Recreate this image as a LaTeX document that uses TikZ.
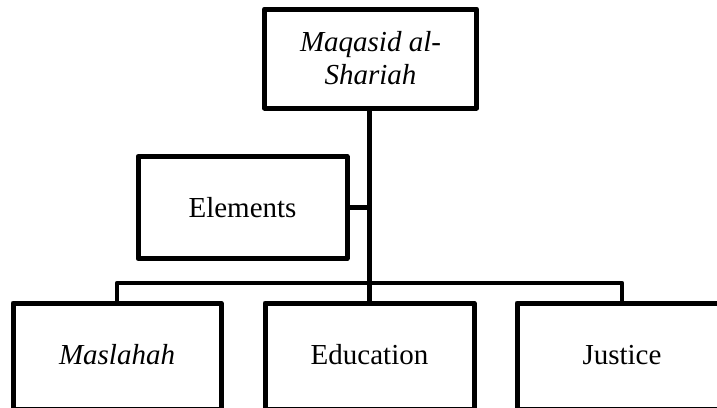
\documentclass[tikz,border=0pt]{standalone}
\usepackage{fontspec}
\setmainfont{Liberation Serif}
\begin{document}
\begin{tikzpicture}[x=1pt,y=-1pt,
  box/.style={draw=black,line width=5pt,line join=round,fill=white,inner sep=0pt,
    font=\fontsize{29}{33}\selectfont,align=center},
  lbl/.style={font=\fontsize{29}{33}\selectfont,anchor=base,inner sep=0pt},
  conn/.style={draw=black,line width=4.7pt,line join=round}]
\useasboundingbox (0,0) rectangle (717,407);
\clip (0,0) rectangle (717,407);
\fill[white] (0,0) rectangle (717,407);
\coordinate (bus) at (369.5,283);
\node[box,minimum width=212pt,minimum height=99pt] (top) at (370.5,58.5) {\itshape Maqasid al-\\\itshape Shariah};
\node[box,minimum width=209pt,minimum height=102pt] (elem) at (242.5,207.5) {Elements};
\node[box,minimum width=208pt,minimum height=106pt] (mas) at (117,356) {};
\node[box,minimum width=209pt,minimum height=106pt] (edu) at (369.5,356) {};
\node[box,minimum width=210pt,minimum height=106pt] (jus) at (622,356) {};
\node[lbl,font=\fontsize{29}{33}\selectfont\itshape] (tmas) at (117,364) {Maslahah};
\node[lbl] (tedu) at (369.5,364) {Education};
\node[lbl] (tjus) at (622,364) {Justice};
\draw[conn] (top.south -| bus) -- (edu.north);
\draw[conn] (elem.east) -- (elem.east -| bus);
\draw[conn] (mas.north) |- (bus) -| (jus.north);
\end{tikzpicture}
\end{document}
